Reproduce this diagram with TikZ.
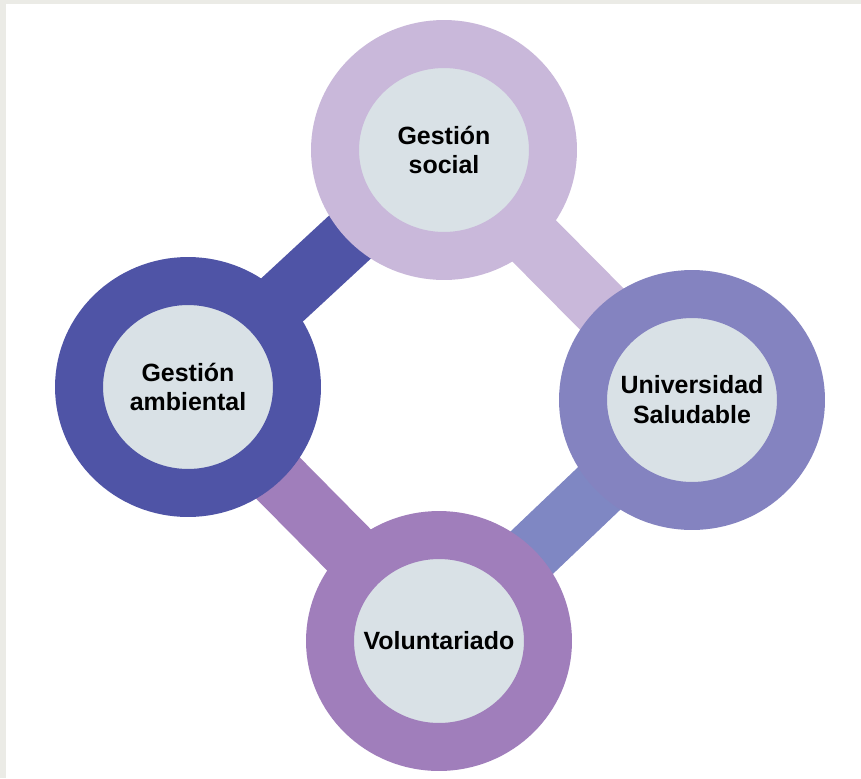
\documentclass[tikz,border=0pt]{standalone}
\usepackage{fontspec}
\setmainfont{Liberation Sans}
\usetikzlibrary{shapes.geometric,backgrounds}
\definecolor{frame}{HTML}{EBEBE6}
\definecolor{core}{HTML}{D9E1E6}
\definecolor{lilac}{HTML}{C9B8DA}
\definecolor{indigo}{HTML}{4F54A6}
\definecolor{periwinkle}{HTML}{8483C0}
\definecolor{violet}{HTML}{A07EBB}
\definecolor{steel}{HTML}{7F87C3}
\begin{document}
\begin{tikzpicture}[x=0.02cm,y=-0.02cm,
    ring/.style={ellipse, draw=#1, line width=0.96cm, fill=core,
      minimum width=4.36cm, minimum height=4.24cm, inner sep=0pt,
      align=center, font=\fontsize{14.2}{17}\selectfont\bfseries},
    link/.style={draw=#1, line width=1.2cm}]
        \node[ring=lilac] (social) at (444,150) {Gestión\\social};
        \node[ring=indigo] (ambiental) at (188,387) {Gestión\\ambiental};
        \node[ring=periwinkle] (saludable) at (692,400) {Universidad\\Saludable};
        \node[ring=violet] (voluntariado) at (439,641) {Voluntariado};
        \begin{scope}[on background layer]
            \fill[frame] (0,0) rectangle (861,778);
            \fill[white] (6,4) rectangle (861,778);
            % bars between the rings
            \draw[link=indigo] (ambiental.center) -- (social.center);
            \draw[link=lilac] (social.center) -- (saludable.center);
            \draw[link=steel] (saludable.center) -- (voluntariado.center);
            \draw[link=violet] (voluntariado.center) -- (ambiental.center);
        \end{scope}
    \end{tikzpicture}
\end{document}
